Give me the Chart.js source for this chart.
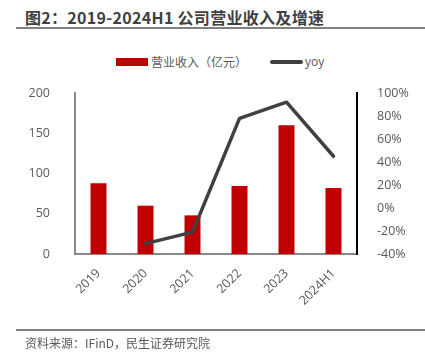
<!DOCTYPE html>
<html><head><meta charset="utf-8">
<script src="https://cdn.jsdelivr.net/npm/chart.js@4.4.1/dist/chart.umd.min.js"></script>
<style>
body{margin:0;width:425px;height:360px;overflow:hidden;background:#fff;font-family:"Noto Sans CJK SC","Noto Sans",sans-serif;position:relative}
#title{position:absolute;left:25px;top:5px;font-size:16px;font-weight:bold;color:#404040;white-space:nowrap;letter-spacing:0.3px}
#rule1{position:absolute;left:16px;top:27px;width:409px;height:2px;background:#808080}
#rule2{position:absolute;left:16px;top:329px;width:409px;height:2px;background:#808080}
#src{position:absolute;left:25px;top:334px;font-size:12px;color:#595959;white-space:nowrap}
#leg{position:absolute;left:0;top:53px;width:425px;height:18px;font-size:12px;color:#595959}
.sw{position:absolute}
.lt{position:absolute;top:0;line-height:18px;white-space:nowrap}
#cv{position:absolute;left:0;top:0}
</style></head>
<body>
<div id="title">图2：2019-2024H1 公司营业收入及增速</div>
<div id="rule1"></div>
<div id="leg">
  <div class="sw" style="left:116px;top:5px;width:32px;height:8px;background:#C00000"></div>
  <div class="lt" style="left:151px">营业收入（亿元）</div>
  <div class="sw" style="left:270px;top:7px;width:33px;height:4px;border-radius:2px;background:#404040"></div>
  <div class="lt" style="left:305px;font-family:'Open Sans',sans-serif">yoy</div>
</div>
<canvas id="cv" width="425" height="360"></canvas>
<div id="rule2"></div>
<div id="src">资料来源：IFinD，民生证券研究院</div>
<script>
const categories = ["2019","2020","2021","2022","2023","2024H1"];
const revenue = [88, 60, 48, 84.5, 160, 82];
const yoy = [null, -31, -21, 78, 92, 45];
const leftTicks = [0, 50, 100, 150, 200];
const rightTicks = [-40, -20, 0, 20, 40, 60, 80, 100];

const tickFont = {family:"'Open Sans','Noto Sans',sans-serif", size:12.5};
new Chart(document.getElementById('cv'), {
  type:'bar',
  data:{
    labels:categories,
    datasets:[
      {type:'line', label:'yoy', data:yoy, yAxisID:'y1', borderColor:'#404040', borderWidth:3.5,
       pointRadius:0, fill:false, tension:0, order:0, borderCapStyle:'round', borderJoinStyle:'round'},
      {type:'bar', label:'营业收入（亿元）', data:revenue, yAxisID:'y', backgroundColor:'#C00000',
       barPercentage:0.34, categoryPercentage:1, order:1}
    ]
  },
  options:{
    responsive:false, animation:false,
    layout:{padding:{top:93,bottom:0,left:0,right:0}},
    plugins:{legend:{display:false}, tooltip:{enabled:false}, title:{display:false}},
    scales:{
      x:{
        offset:true,
        grid:{display:false},
        border:{display:true,color:'#898989',width:2},
        ticks:{minRotation:45,maxRotation:45,color:'#595959',font:tickFont,padding:4},
        afterFit:s=>{s.height=106;}
      },
      y:{
        position:'left', min:leftTicks[0], max:leftTicks[leftTicks.length-1],
        afterBuildTicks:s=>{s.ticks=leftTicks.map(v=>({value:v}));},
        grid:{display:false},
        border:{display:true,color:'#898989',width:2},
        ticks:{color:'#595959',font:tickFont,padding:17},
        afterFit:s=>{s.width=75;}
      },
      y1:{
        position:'right', min:rightTicks[0], max:rightTicks[rightTicks.length-1],
        afterBuildTicks:s=>{s.ticks=rightTicks.map(v=>({value:v}));},
        grid:{display:false},
        border:{display:true,color:'#000000',width:2},
        ticks:{color:'#595959',font:tickFont,padding:12,callback:v=>v+'%'},
        afterFit:s=>{s.width=68;}
      }
    }
  }
});
</script>
</body></html>
